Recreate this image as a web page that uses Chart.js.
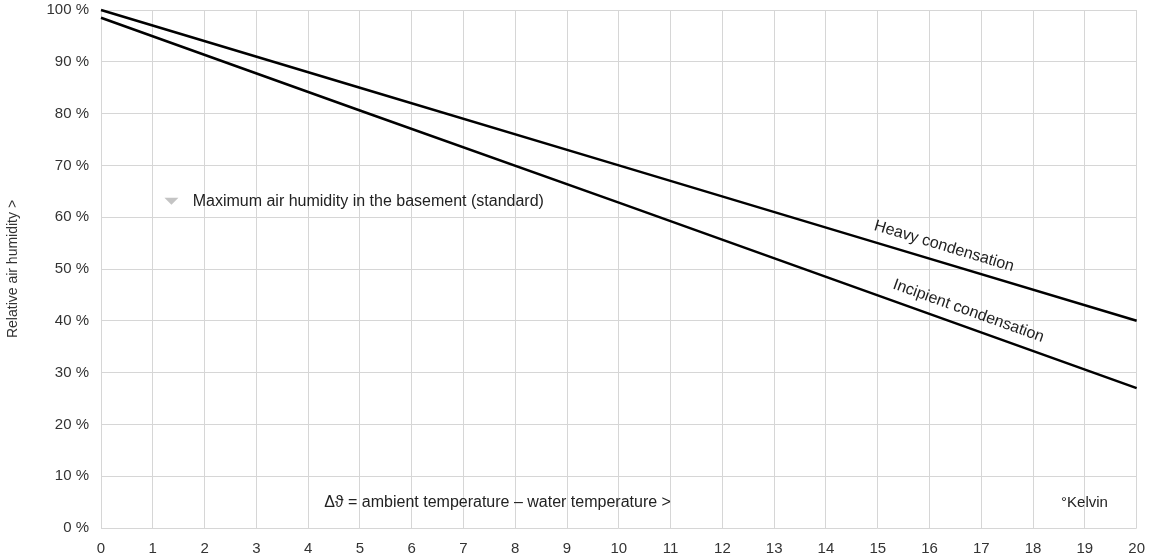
<!DOCTYPE html>
<html>
<head>
<meta charset="utf-8">
<script src="https://cdn.jsdelivr.net/npm/chart.js@4"></script>
<style>
  html, body { margin:0; padding:0; background:#fff; }
  #wrap { width:1157px; height:560px; position:relative; }
</style>
</head>
<body>
<div id="wrap"><canvas id="humidityChart"></canvas></div>
<script>
// --- data ---
const tempDiff = [0, 5, 10, 15, 20];                 // Δϑ in Kelvin
const heavyCondensation = [100, 85, 70, 55, 40];     // % rel. humidity
const incipientCondensation = [98.5, 80.6, 62.8, 44.9, 27];
const yTicks = [0, 10, 20, 30, 40, 50, 60, 70, 80, 90, 100];
const xTicks = [0, 1, 2, 3, 4, 5, 6, 7, 8, 9, 10, 11, 12, 13, 14, 15, 16, 17, 18, 19, 20];

const FONT = '"Liberation Sans", Arial, sans-serif';
const TEXT = '#333';

// annotations drawn on top (data coords)
const labelsPlugin = {
    id: 'labels',
    afterDatasetsDraw(chart) {
        const { ctx, scales: { x, y } } = chart;
        ctx.save();
        ctx.fillStyle = '#222';
        ctx.font = '16px ' + FONT;
        ctx.textBaseline = 'middle';
        ctx.textAlign = 'left';

        // triangle marker + standard label
        const tx = x.getPixelForValue(1.36), ty = y.getPixelForValue(63.1);
        ctx.fillStyle = '#c4c4c4';
        ctx.beginPath();
        ctx.moveTo(tx - 7, ty - 3.5);
        ctx.lineTo(tx + 7, ty - 3.5);
        ctx.lineTo(tx, ty + 3.5);
        ctx.closePath();
        ctx.fill();
        ctx.fillStyle = '#222';
        ctx.fillText('Maximum air humidity in the basement (standard)', x.getPixelForValue(1.77), ty);

        ctx.fillText('Δϑ = ambient temperature – water temperature >', x.getPixelForValue(4.31), y.getPixelForValue(5.0));
        ctx.font = '15px ' + FONT;
        ctx.fillText('°Kelvin', x.getPixelForValue(18.54), y.getPixelForValue(4.9));

        // rotated line labels
        ctx.font = '16px ' + FONT;
        function along(text, xs, vals, xv, offset) {
            const x0 = x.getPixelForValue(xs[0]), y0 = y.getPixelForValue(vals[0]);
            const x1 = x.getPixelForValue(xs[xs.length - 1]), y1 = y.getPixelForValue(vals[vals.length - 1]);
            const ang = Math.atan2(y1 - y0, x1 - x0);
            const t = (xv - xs[0]) / (xs[xs.length - 1] - xs[0]);
            const px = x0 + (x1 - x0) * t, py = y0 + (y1 - y0) * t;
            ctx.save();
            ctx.translate(px, py);
            ctx.rotate(ang);
            ctx.textBaseline = 'bottom';
            ctx.fillText(text, 0, -offset);
            ctx.restore();
        }
        along('Heavy condensation', tempDiff, heavyCondensation, 14.85, 8);
        along('Incipient condensation', tempDiff, incipientCondensation, 15.2, 8);
        ctx.restore();
    }
};

new Chart(document.getElementById('humidityChart'), {
    type: 'line',
    data: {
        labels: tempDiff,
        datasets: [{
            label: 'Heavy condensation',
            data: tempDiff.map((t, i) => ({ x: t, y: heavyCondensation[i] })),
            borderColor: '#000',
            borderWidth: 2.5,
            pointRadius: 0,
            clip: false
        }, {
            label: 'Incipient condensation',
            data: tempDiff.map((t, i) => ({ x: t, y: incipientCondensation[i] })),
            borderColor: '#000',
            borderWidth: 2.5,
            pointRadius: 0,
            clip: false
        }]
    },
    options: {
        responsive: true,
        maintainAspectRatio: false,
        animation: false,
        layout: { padding: { left: 0, right: 20, top: 10, bottom: 0 } },
        plugins: {
            legend: { display: false },
            tooltip: { enabled: false }
        },
        scales: {
            x: {
                type: 'linear',
                min: 0,
                max: 20,
                afterFit: s => { s.height = 32; },
                afterBuildTicks: s => { s.ticks = xTicks.map(v => ({ value: v })); },
                grid: { color: '#d6d6d6', lineWidth: 1, drawTicks: false },
                border: { display: false },
                ticks: { color: TEXT, font: { family: FONT, size: 15 }, padding: 12, maxRotation: 0 }
            },
            y: {
                min: 0,
                max: 100,
                afterFit: s => { s.width = 101; s.paddingTop = 0; },
                afterBuildTicks: s => { s.ticks = yTicks.map(v => ({ value: v })); },
                grid: { color: '#d6d6d6', lineWidth: 1, drawTicks: false },
                border: { display: false },
                ticks: {
                    color: TEXT,
                    font: { family: FONT, size: 15 },
                    padding: 12,
                    callback: v => v + ' %'
                },
                title: {
                    display: true,
                    text: 'Relative air humidity >',
                    color: TEXT,
                    font: { family: FONT, size: 14 },
                    padding: { top: 5, bottom: 0 }
                }
            }
        }
    },
    plugins: [labelsPlugin]
});
</script>
</body>
</html>
